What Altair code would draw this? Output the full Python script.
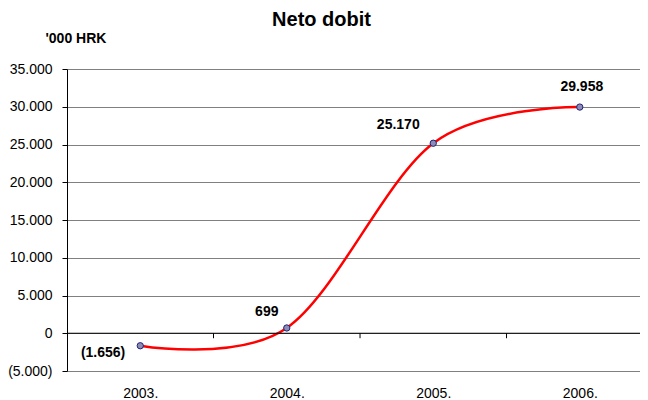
import altair as alt
import pandas as pd

# ---- data ----
years = [2003, 2004, 2005, 2006]
net_profit = [-1656, 699, 25170, 29958]
y_ticks = [-5000, 0, 5000, 10000, 15000, 20000, 25000, 30000, 35000]
category_boundaries = [2003.5, 2004.5, 2005.5]

df = pd.DataFrame({"year": years, "value": net_profit})
bdf = pd.DataFrame({"b": category_boundaries})
zdf = pd.DataFrame({"z": [0]})

# ---- style ----
FONT = "Arial"
label_style = {
    2003: dict(align="right", dx=-15, dy=7),
    2004: dict(align="center", dx=-20, dy=-16),
    2005: dict(align="center", dx=-35, dy=-18),
    2006: dict(align="center", dx=2, dy=-20),
}

fmt = "replace(format(abs(datum.value), ','), ',', '.')"
num_expr = f"datum.value < 0 ? '(' + {fmt} + ')' : {fmt}"

x_scale = alt.Scale(domain=[2002.5, 2006.411], nice=False, zero=False)
y_scale = alt.Scale(domain=[-5000, 35000], nice=False, zero=False)

x_enc = alt.X(
    "year:Q",
    scale=x_scale,
    axis=alt.Axis(
        values=years,
        tickCount=len(years),
        labelExpr="format(datum.value, 'd') + '.'",
        title=None,
        grid=False,
        domain=False,
        ticks=False,
        tickSize=0,
        labelPadding=15,
        labelOverlap=False,
        labelFont=FONT,
        labelFontSize=14,
        labelColor="black",
    ),
)
y_enc = alt.Y(
    "value:Q",
    scale=y_scale,
    axis=alt.Axis(
        values=y_ticks,
        tickCount=len(y_ticks),
        labelExpr=num_expr,
        labelOverlap=False,
        title="'000 HRK",
        titleAngle=0,
        titleAlign="left",
        titleBaseline="alphabetic",
        titleX=-22,
        titleY=-27,
        titleFont=FONT,
        titleFontSize=14,
        titleFontWeight="bold",
        titleColor="black",
        grid=True,
        gridColor="#808080",
        gridWidth=1,
        domainColor="black",
        tickColor="black",
        tickSize=5,
        labelPadding=10,
        labelFont=FONT,
        labelFontSize=14,
        labelColor="black",
    ),
)

zero_line = alt.Chart(zdf).mark_rule(color="black", strokeWidth=1).encode(
    y=alt.Y("z:Q", scale=y_scale)
)

ticks = alt.Chart(bdf).mark_rule(color="black", strokeWidth=1).encode(
    x=alt.X("b:Q", scale=x_scale),
    y=alt.datum(0),
    y2=alt.datum(-660),
)

line = alt.Chart(df).mark_line(
    color="#ff0000", strokeWidth=2.5, interpolate="cardinal"
).encode(x=x_enc, y=y_enc)

points = alt.Chart(df).mark_point(
    shape="circle", filled=True, fill="#8c8cb4", fillOpacity=1,
    stroke="#23237a", strokeWidth=1, size=40, opacity=1,
).encode(x="year:Q", y="value:Q")

labels = []
for yr, st in label_style.items():
    labels.append(
        alt.Chart(df)
        .transform_filter(alt.datum.year == yr)
        .transform_calculate(lbl=num_expr)
        .mark_text(
            font=FONT, fontSize=14, fontWeight="bold", color="black",
            baseline="middle", **st,
        )
        .encode(x="year:Q", y="value:Q", text="lbl:N")
    )

chart = (
    alt.layer(line, zero_line, ticks, points, *labels)
    .properties(
        width=573,
        height=302,
        title=alt.TitleParams(
            "Neto dobit", font=FONT, fontSize=20, fontWeight="bold",
            color="black", anchor="middle", dx=-32, dy=18, offset=3,
            baseline="alphabetic",
        ),
        padding={"left": 59, "top": 61, "right": 0, "bottom": 29},
        autosize=alt.AutoSizeParams(type="none"),
    )
    .configure_view(stroke=None)
)

chart.save("out.html", embed_options={"renderer": "svg", "actions": False})
